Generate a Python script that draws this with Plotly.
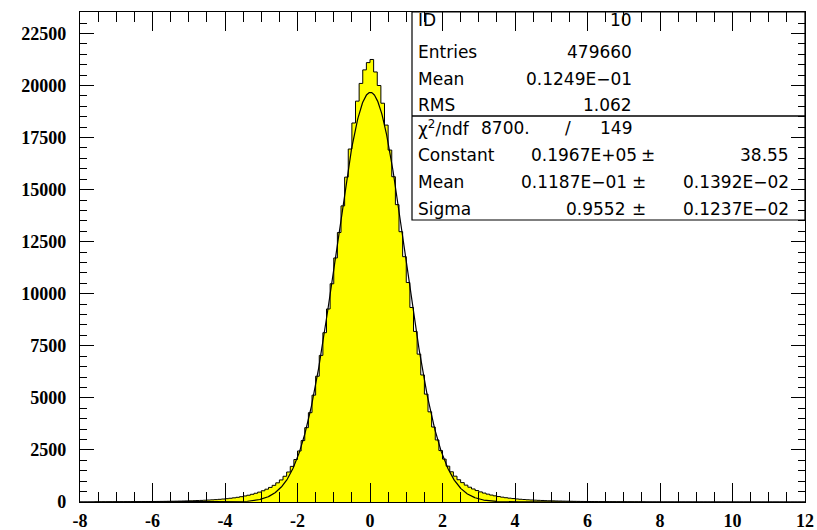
import numpy as np
import plotly.graph_objects as go

# Histogram booking: 200 bins of width 0.1 between -8 and 12
n_bins, x_low, x_high = 200, -8.0, 12.0

# Bin contents for the bins centred at -7.95 ... -0.05
counts_neg = [
    0, 0, 0, 0, 7, 8, 9, 9, 10, 11,
    12, 13, 14, 15, 16, 17, 18, 20, 21, 23,
    25, 27, 29, 31, 34, 37, 40, 44, 48, 53,
    58, 64, 70, 77, 85, 94, 104, 115, 128, 143,
    160, 180, 200, 225, 255, 290, 325, 370, 420, 475,
    540, 615, 700, 800, 920, 1060, 1235, 1440, 1710, 2040,
    2450, 2950, 3570, 4290, 5130, 6040, 7040, 8130, 9270, 10480,
    11720, 12940, 14220, 15600, 16950, 18200, 19250, 20100, 20750, 21100,
]
# Bin contents for the bins centred at 0.05 ... 11.95
counts_pos = [
    21250, 20650, 20000, 19150, 18100, 16900, 15620, 14280, 12980, 11780,
    10540, 9340, 8190, 7100, 6100, 5180, 4330, 3600, 2980, 2470,
    2060, 1720, 1450, 1240, 1070, 930, 810, 710, 625, 550,
    485, 428, 378, 333, 296, 262, 232, 206, 184, 165,
    147, 132, 119, 107, 97, 88, 80, 73, 66, 60,
    55, 50, 46, 42, 39, 35, 32, 30, 27, 25,
    23, 21, 19, 18, 16, 15, 14, 13, 12, 11,
    10, 9, 8, 8, 7, 6, 0, 0, 0, 0,
] + [0] * 40
counts = counts_neg + counts_pos

# Statistics and Gaussian fit results
stat_labels = ["ID", "Entries", "Mean", "RMS"]
stat_values = ["10", "479660", "0.1249E\u221201", "1.062"]
chi2_ndf = ("8700.", "149")
fit_labels = ["Constant", "Mean", "Sigma"]
fit_values = ["0.1967E+05", "0.1187E\u221201", "0.9552"]
fit_errors = ["38.55", "0.1392E\u221202", "0.1237E\u221202"]
fit_constant, fit_mean, fit_sigma = 0.1967e05, 0.1187e-01, 0.9552

x_ticks = list(range(-8, 13, 2))
y_ticks = list(range(0, 22501, 2500))

edges = np.linspace(x_low, x_high, n_bins + 1)
step_y = counts + [counts[-1]]

fig = go.Figure()
fig.add_trace(go.Scatter(
    x=edges, y=step_y, mode="lines", line_shape="hv",
    line=dict(color="black", width=1),
    fill="tozeroy", fillcolor="#ffff00", hoverinfo="skip",
))

# fitted Gaussian drawn over the whole axis range
xf = np.linspace(x_low, x_high, 2001)
yf = fit_constant * np.exp(-0.5 * ((xf - fit_mean) / fit_sigma) ** 2)
fig.add_trace(go.Scatter(x=xf, y=yf, mode="lines",
                         line=dict(color="black", width=1.2), hoverinfo="skip"))

# pixel geometry of the frame
L, R, T, B = 80, 805, 12, 502


def px(xp):
    return (xp - L) / (R - L)


def py(yp):
    return (B - yp) / (B - T)


stat_font = dict(family="DejaVu Sans", size=17, color="black")
ann = []


def txt(x, y, s, anchor):
    ann.append(dict(x=px(x), y=py(y), xref="paper", yref="paper", text=s,
                    showarrow=False, xanchor=anchor, yanchor="middle",
                    font=stat_font))


rows_stat = [20, 52, 79, 105]
for lab, val, yy in zip(stat_labels, stat_values, rows_stat):
    txt(416, yy, lab, "left")
    txt(634, yy, val, "right")

txt(416, 128, "\u03c7<sup>2</sup>/ndf", "left")
txt(479, 128, chi2_ndf[0], "left")
txt(568, 128, "/", "center")
txt(634, 128, chi2_ndf[1], "right")

rows_fit = [155, 182, 209]
val_right = [639, 629, 627]
pm_x = [648, 639, 639]
for lab, val, err, yy, vr, pm in zip(fit_labels, fit_values, fit_errors, rows_fit, val_right, pm_x):
    txt(416, yy, lab, "left")
    txt(vr, yy, val, "right")
    txt(pm, yy, "\u00b1", "center")
    txt(791, yy, err, "right")

shapes = [
    dict(type="rect", xref="paper", yref="paper", x0=px(412), x1=1, y0=py(220), y1=1,
         line=dict(color="black", width=1.2), fillcolor="rgba(0,0,0,0)"),
    dict(type="line", xref="paper", yref="paper", x0=px(412), x1=1, y0=py(116), y1=py(116),
         line=dict(color="black", width=1.6)),
]

tick_font = dict(family="Liberation Serif", size=18, color="black", weight="bold")

fig.update_layout(
    width=817, height=530, autosize=False,
    margin=dict(l=L, r=817 - R, t=T, b=530 - B, autoexpand=False),
    paper_bgcolor="white", plot_bgcolor="white",
    showlegend=False,
    annotations=ann, shapes=shapes,
    xaxis=dict(range=[x_low, x_high], tickvals=x_ticks,
               ticktext=[str(v) for v in x_ticks], automargin=False,
               ticks="inside", ticklen=19, tickwidth=1, tickcolor="black",
               minor=dict(dtick=0.5, ticks="inside", ticklen=10, tickcolor="black", tickwidth=1),
               showgrid=False, zeroline=False, showline=True, linecolor="black",
               linewidth=1.2, mirror="ticks", tickfont=tick_font, ticklabelstandoff=2),
    yaxis=dict(range=[0, 23530], tickvals=y_ticks, ticktext=[str(v) for v in y_ticks],
               automargin=False,
               ticks="inside", ticklen=14, tickwidth=1, tickcolor="black",
               minor=dict(dtick=500, ticks="inside", ticklen=7, tickcolor="black", tickwidth=1),
               showgrid=False, zeroline=False, showline=True, linecolor="black",
               linewidth=1.2, mirror="ticks", tickfont=tick_font, ticklabelstandoff=9),
)

fig.write_html("out.html")
